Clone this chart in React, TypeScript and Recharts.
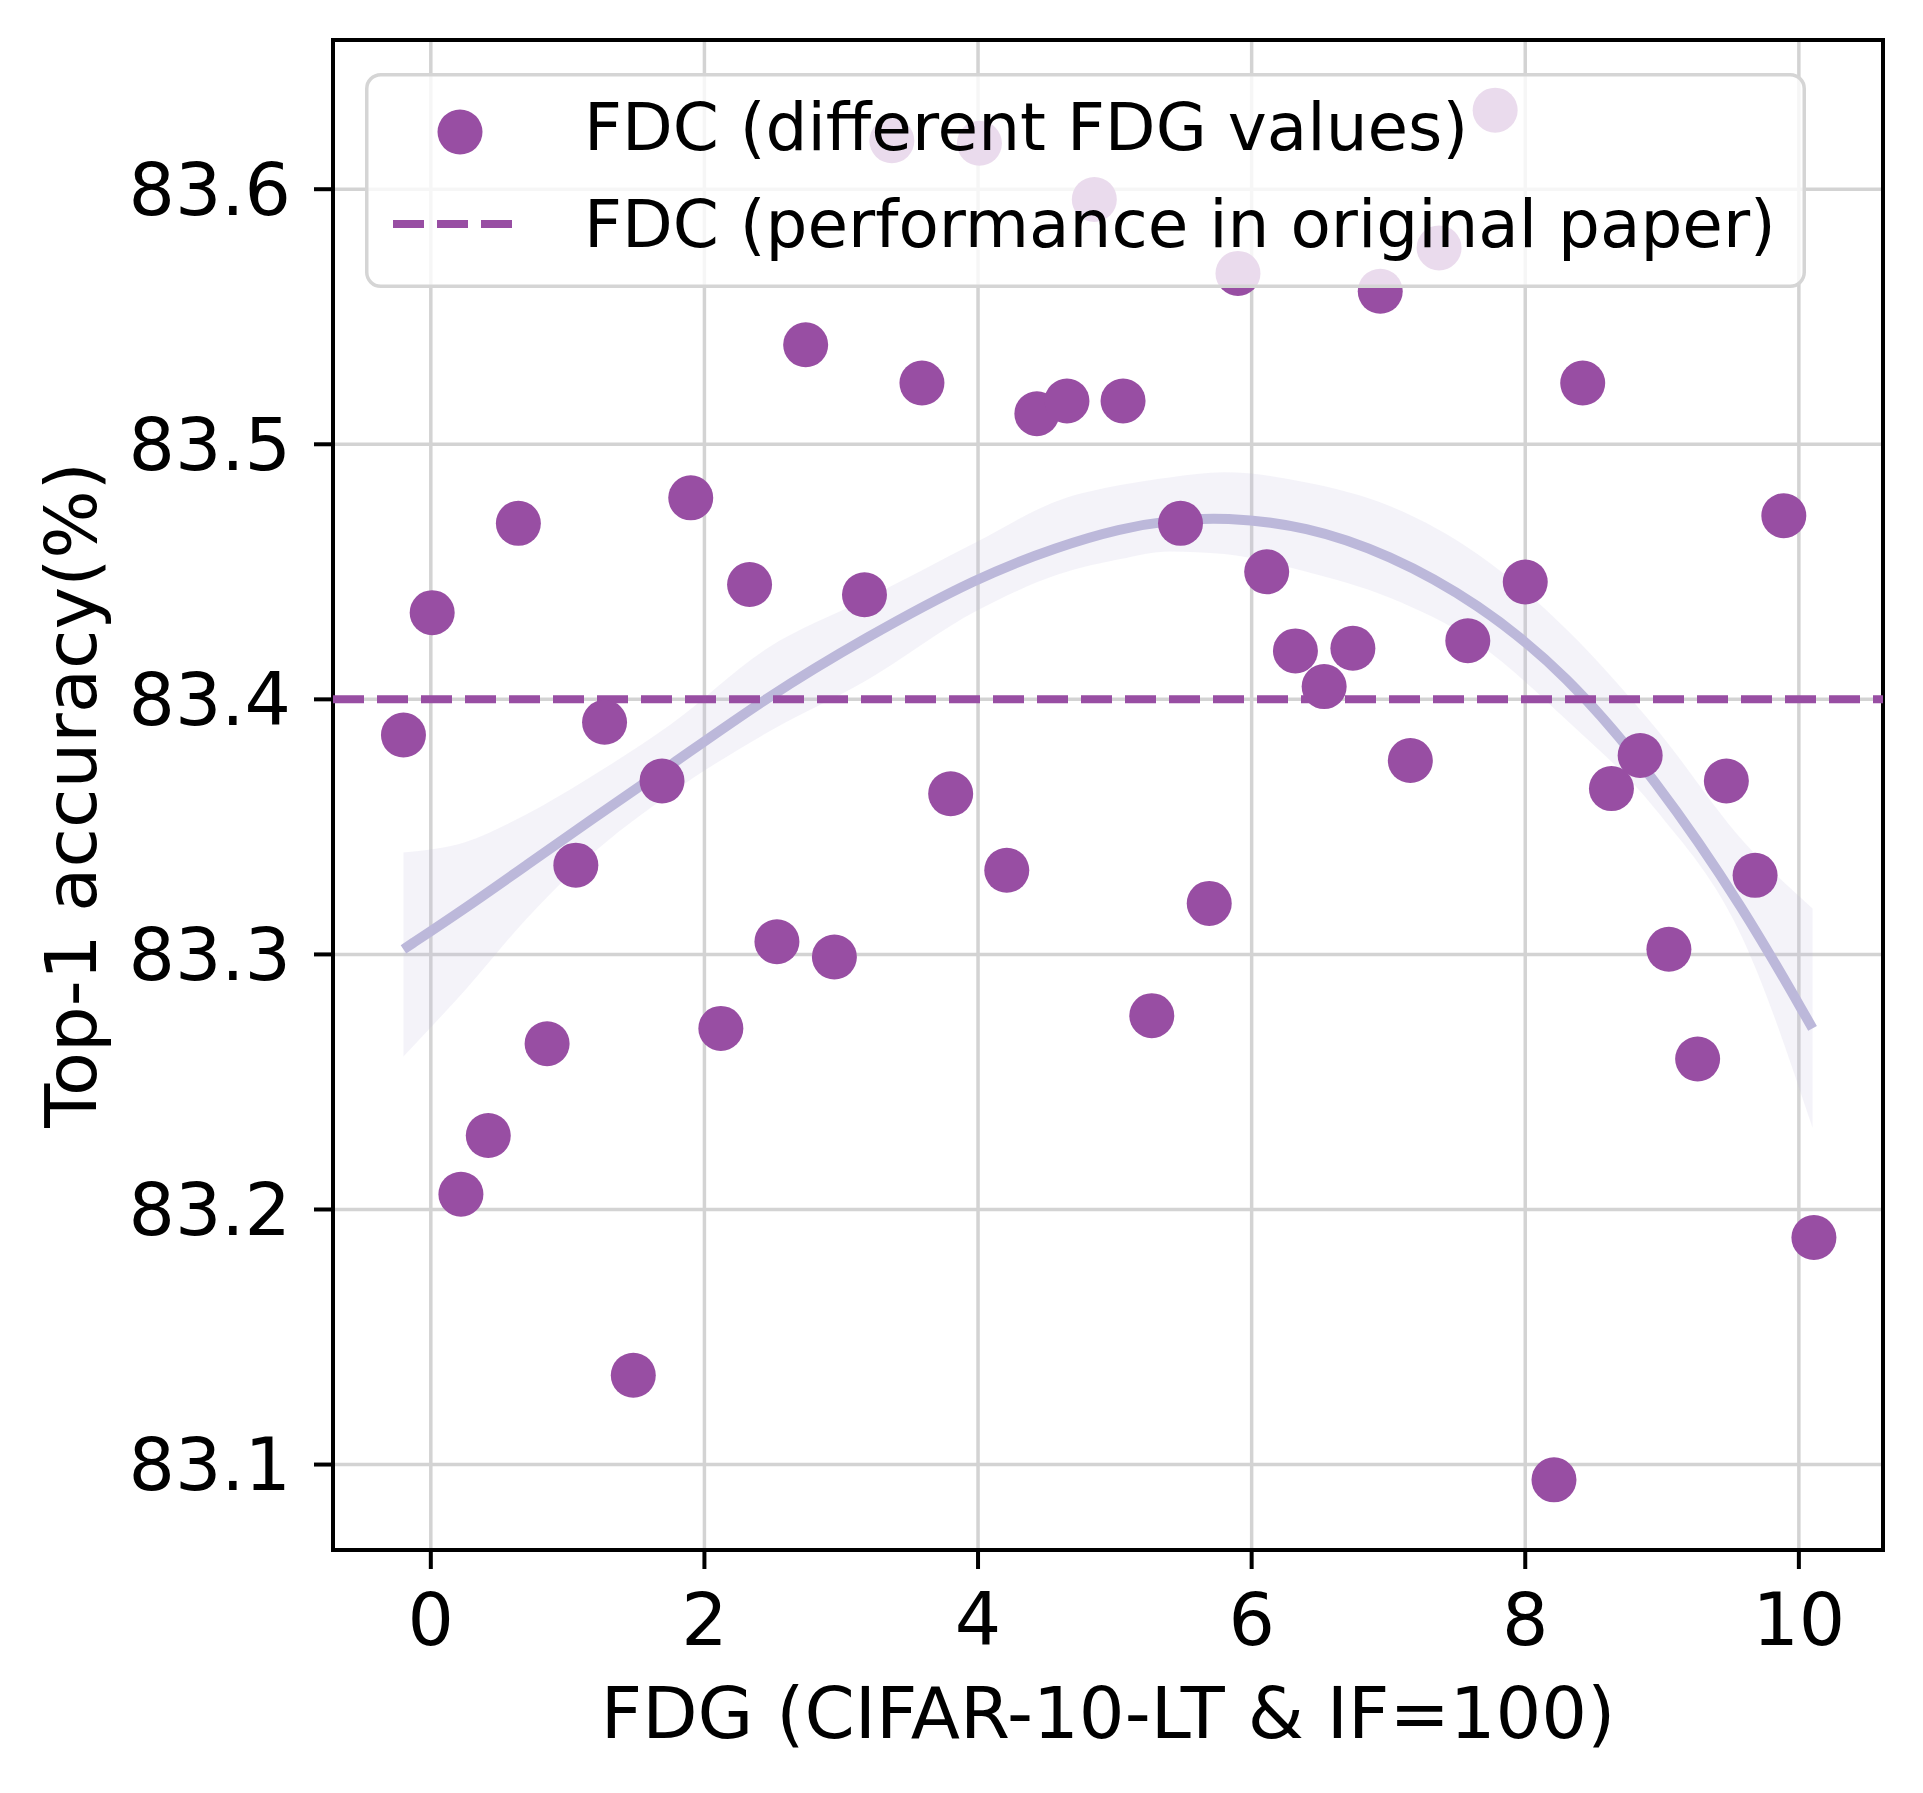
import React from 'react';
import {
  ComposedChart,
  Scatter,
  Line,
  Area,
  XAxis,
  YAxis,
  CartesianGrid,
  ReferenceLine,
  ReferenceArea,
  Legend,
} from 'recharts';

// ---- data ----
const fdgValues = [
  -0.2, 0.01, 0.22, 0.42, 0.64, 0.85, 1.06, 1.27, 1.48, 1.69,
  1.9, 2.12, 2.33, 2.53, 2.74, 2.95, 3.17, 3.37, 3.59, 3.8,
  4.01, 4.21, 4.43, 4.65, 4.85, 5.06, 5.27, 5.48, 5.69, 5.9,
  6.11, 6.32, 6.53, 6.74, 6.94, 7.16, 7.37, 7.58, 7.78, 8.0,
  8.21, 8.42, 8.63, 8.84, 9.05, 9.26, 9.47, 9.68, 9.89, 10.11,
];
const accValues = [
  83.386, 83.434, 83.206, 83.229, 83.469, 83.265, 83.335, 83.391, 83.135, 83.368,
  83.479, 83.271, 83.445, 83.305, 83.539, 83.299, 83.441, 83.619, 83.524, 83.363,
  83.618, 83.333, 83.512, 83.517, 83.596, 83.517, 83.276, 83.469, 83.32, 83.567,
  83.45, 83.419, 83.405, 83.42, 83.56, 83.376, 83.577, 83.423, 83.631, 83.446,
  83.094, 83.524, 83.365, 83.378, 83.302, 83.259, 83.368, 83.331, 83.472, 83.189,
];

const fitX = [-0.2, 0.25, 0.7, 1.15, 1.75, 2.46, 3.17, 4.0, 4.59, 5.04, 5.4, 5.8, 6.4, 7.0, 7.65, 8.3, 8.95, 9.6, 10.1];
const fitMean = [83.302, 83.318, 83.335, 83.352, 83.374, 83.401, 83.424, 83.448, 83.46, 83.467, 83.4702, 83.4715, 83.468, 83.457, 83.438, 83.41, 83.369, 83.318, 83.271];
const fitLow = [83.26, 83.286, 83.314, 83.338, 83.363, 83.387, 83.407, 83.435, 83.449, 83.455, 83.458, 83.457, 83.45, 83.44, 83.422, 83.392, 83.357, 83.305, 83.232];
const fitHigh = [83.34, 83.344, 83.355, 83.369, 83.39, 83.42, 83.439, 83.462, 83.478, 83.484, 83.487, 83.489, 83.485, 83.476, 83.457, 83.4275, 83.389, 83.344, 83.318];

const paperAcc = 83.4;
const xTicks = [0, 2, 4, 6, 8, 10];
const yTicks = [83.1, 83.2, 83.3, 83.4, 83.5, 83.6];
const xDomain: [number, number] = [-0.715, 10.615];
const yDomain: [number, number] = [83.0665, 83.6585];

const scatterLabel = 'FDC (different FDG values)';
const paperLabel = 'FDC (performance in original paper)';
const xLabel = 'FDG (CIFAR-10-LT & IF=100)';
const yLabel = 'Top-1 accuracy(%)';

// ---- styles ----
const PURPLE = '#984ea3';
const FIT = '#bcb8da';
const FONT = 'DejaVu Sans';

const scatterData = fdgValues.map((x, i) => ({ x, y: accValues[i] }));
const fitData = fitX.map((x, i) => ({ x, fit: fitMean[i], band: [fitLow[i], fitHigh[i]] }));

const Dot = (props: any) => <circle cx={props.cx} cy={props.cy} r={22.5} fill={PURPLE} />;

const LegendBox = () => (
  <svg width={1441} height={215} style={{ display: 'block' }}>
    <rect x={1.75} y={1.75} width={1437.5} height={211.5} rx={14} ry={14}
      fill="rgba(255,255,255,0.8)" stroke="#d5d5d5" strokeWidth={3.5} />
    <circle cx={95} cy={59} r={22.5} fill={PURPLE} />
    <line x1={28} x2={160} y1={151} y2={151} stroke={PURPLE} strokeWidth={8} strokeDasharray="31 13" />
    <text x={219} y={77} fontSize={66} fontFamily={FONT} fill="#000">{scatterLabel}</text>
    <text x={219} y={174} fontSize={66} fontFamily={FONT} fill="#000">{paperLabel}</text>
  </svg>
);

const renderYLabel = (props: any) => {
  const vb = props.viewBox || { x: 0, y: 40, width: 333, height: 1510 };
  const cx = vb.x + 96;
  const cy = vb.y + vb.height / 2;
  return (
    <text x={0} y={0} transform={`translate(${cx},${cy}) rotate(-90)`} textAnchor="middle"
      fontSize={72} fontFamily={FONT} fill="#000">
      {yLabel}
    </text>
  );
};

export default function App() {
  return (
    <div style={{ position: 'absolute', left: 0, top: 0, width: 1923, height: 1793, background: '#fff' }}>
      <ComposedChart width={1923} height={1793} data={fitData}
        margin={{ top: 40, right: 40, left: 0, bottom: 0 }}>
        <CartesianGrid stroke="#d3d3d3" strokeWidth={3.5} />
        <XAxis type="number" dataKey="x" domain={xDomain} ticks={xTicks} allowDataOverflow
          height={243} axisLine={false} tickSize={19} tickMargin={24}
          tickLine={{ stroke: '#000', strokeWidth: 4 }}
          tick={{ fontSize: 73, fontFamily: FONT, fill: '#000' }}
          label={{ value: xLabel, position: 'insideBottom', offset: 55, fontSize: 72, fontFamily: FONT, fill: '#000' }} />
        <YAxis type="number" domain={yDomain} ticks={yTicks} allowDataOverflow
          width={333} axisLine={false} tickSize={19} tickMargin={23}
          tickFormatter={(v: number) => v.toFixed(1)}
          tickLine={{ stroke: '#000', strokeWidth: 4 }}
          tick={{ fontSize: 73, fontFamily: FONT, fill: '#000' }}
          label={{ value: yLabel, content: renderYLabel }} />
        <Scatter data={scatterData} dataKey="y" shape={Dot} isAnimationActive={false} />
        <Area dataKey="band" type="monotone" stroke="none" fill={FIT} fillOpacity={0.17}
          dot={false} activeDot={false} isAnimationActive={false} />
        <Line dataKey="fit" type="basis" stroke={FIT} strokeWidth={10} dot={false}
          activeDot={false} isAnimationActive={false} />
        <ReferenceLine y={paperAcc} stroke={PURPLE} strokeWidth={8} strokeDasharray="31 13" />
        <ReferenceArea x1={xDomain[0]} x2={xDomain[1]} y1={yDomain[0]} y2={yDomain[1]}
          fill="none" fillOpacity={0} stroke="#000" strokeWidth={4} />
        <Legend verticalAlign="middle" align="center" layout="horizontal"
          wrapperStyle={{ position: 'absolute', left: 365, top: 73, width: 1441, height: 215, margin: 0, padding: 0, pointerEvents: 'none' }}
          content={() => <LegendBox />} />
      </ComposedChart>
    </div>
  );
}
